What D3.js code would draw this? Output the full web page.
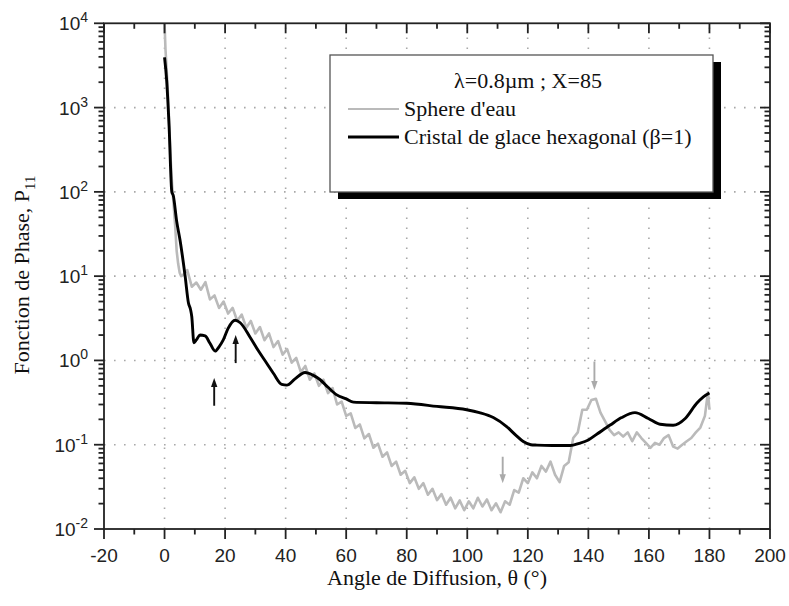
<!DOCTYPE html>
<html><head><meta charset="utf-8">
<script src="https://cdn.jsdelivr.net/npm/d3@7/dist/d3.min.js"></script>
<style>body{margin:0;background:#fff}svg{display:block}</style>
</head><body><svg id="c" width="789" height="606"></svg>
<script>
// ---------- data ----------
const xTickValues = [-20, 0, 20, 40, 60, 80, 100, 120, 140, 160, 180, 200];
const yTickExponents = [-2, -1, 0, 1, 2, 3, 4];

const sphereAngles = [0, 0.3, 1, 1.5, 2, 2.5, 3, 3.5, 4, 4.5, 5, 5.5, 6,
  7.5, 9, 10.5, 12, 13.5, 15, 16.5, 18, 19.5, 21, 22.5, 24, 25.5, 27, 28.5, 30,
  31.5, 33, 34.5, 36, 37.5, 39, 40.5, 42, 43.5, 45, 46.5, 48, 49.5, 51, 52.5, 54,
  55.5, 57, 58.5, 60, 61.5, 63, 64.5, 66, 67.5, 69, 70.5, 72, 73.5, 75, 76.5, 78,
  79.5, 81, 82.5, 84, 85.5, 87, 88.5, 90, 91.5, 93, 94.5, 96, 97.5, 99, 100.5, 102,
  103.5, 105, 106.5, 108, 109.5, 111, 112.5, 114, 115.5, 117, 118.5, 120, 121.5, 123,
  124.5, 126, 127.5, 129, 130.5, 132, 133.5, 135, 136.5, 138, 139.5, 141, 142.5, 144,
  145.5, 147, 148.5, 150, 151.5, 153, 154.5, 156, 157.5, 159, 160.5, 162, 163.5, 165,
  166.5, 168, 169.5, 171, 172.5, 174, 175.5, 177, 178.5, 179.5, 180];
const sphereValues = [10000, 5000, 1800, 700, 250, 120, 70, 40, 20, 14, 11, 10, 10.2,
  11.8, 7.5, 8.4, 6.9, 8.5, 5.3, 5.9, 4.2, 5.0, 3.6, 4.2, 2.96, 3.5, 2.44, 2.94, 2.09,
  2.49, 1.74, 2.09, 1.44, 1.7, 1.17, 1.36, 0.94, 1.07, 0.73, 0.86, 0.59, 0.70, 0.50, 0.59, 0.41,
  0.47, 0.30, 0.325, 0.22, 0.235, 0.158, 0.174, 0.119, 0.134, 0.092, 0.103, 0.072, 0.081, 0.056, 0.063, 0.044,
  0.049, 0.035, 0.041, 0.030, 0.035, 0.0255, 0.030, 0.022, 0.026, 0.0194, 0.0235, 0.0176, 0.0218, 0.0167, 0.0213, 0.0176,
  0.0235, 0.0185, 0.0224, 0.0167, 0.0202, 0.0158, 0.0213, 0.0194, 0.029, 0.027, 0.040, 0.035, 0.047, 0.040,
  0.056, 0.048, 0.063, 0.044, 0.036, 0.056, 0.062, 0.12, 0.14, 0.26, 0.26, 0.34, 0.35, 0.24,
  0.19, 0.15, 0.13, 0.14, 0.125, 0.14, 0.11, 0.14, 0.12, 0.105, 0.092, 0.105, 0.10, 0.12,
  0.13, 0.095, 0.09, 0.10, 0.11, 0.12, 0.14, 0.16, 0.22, 0.42, 0.26];

const crystalAngles = [0, 0.7, 1.5, 2.4, 2.9, 4, 5.1, 6.8, 7.9, 8.6, 9.0, 9.7, 10.5, 11.7,
  13.4, 15, 16.7, 18, 19.4, 21, 23.3, 25, 28.2, 31, 33.8, 36, 38.7, 40.4, 43, 46.4, 49,
  51.4, 54, 56.9, 60, 62.4, 70, 80, 90, 99.8, 104, 108.6, 113, 116, 118.5, 121, 123, 128,
  134, 137, 140, 143, 147.2, 151, 155.4, 159.8, 163.7, 168, 172, 175.8, 178, 180];
const crystalValues = [3950, 2100, 600, 100, 90, 45, 27, 10, 4.8, 4.0, 3.3, 1.62, 1.75, 2.0,
  1.95, 1.6, 1.29, 1.45, 1.75, 2.4, 3.0, 2.8, 1.9, 1.3, 0.92, 0.7, 0.52, 0.51, 0.6, 0.72, 0.67,
  0.59, 0.48, 0.39, 0.35, 0.32, 0.315, 0.31, 0.285, 0.26, 0.24, 0.21, 0.164, 0.13, 0.109, 0.1, 0.099, 0.098,
  0.098, 0.104, 0.114, 0.135, 0.171, 0.21, 0.24, 0.205, 0.175, 0.17, 0.205, 0.31, 0.37, 0.41];

// arrows: angle, tail value, tip value, series index (0 sphere, 1 crystal)
const arrowAngles = [16.4, 23.5, 111.7, 142];
const arrowTails = [0.29, 0.93, 0.072, 0.97];
const arrowTips = [0.62, 2.0, 0.035, 0.445];
const arrowSeries = [1, 1, 0, 0];

const legendTitle = "λ=0.8µm ; X=85";
const seriesNames = ["Sphere d'eau", "Cristal de glace hexagonal (β=1)"];
const seriesColors = ["#bababa", "#000000"];
const xTitle = "Angle de Diffusion, θ (°)";
const yTitle = "Fonction de Phase, P";
const yTitleSub = "11";

// ---------- layout ----------
const L = 104, R = 770, T = 23.3, B = 529;
const svg = d3.select("#c");
const x = d3.scaleLinear().domain([-20, 200]).range([L, R]);
const y = d3.scaleLog().domain([1e-2, 1e4]).range([B, T]);
const serif = "'Liberation Serif','Times New Roman',Times,serif";
const sans = "'Liberation Sans',Arial,Helvetica,sans-serif";

svg.append("defs").append("clipPath").attr("id", "clip")
  .append("rect").attr("x", L).attr("y", T).attr("width", R - L).attr("height", B - T);

// grid
const grid = svg.append("g").attr("stroke", "#a8a8a8").attr("stroke-width", 1.6)
  .attr("stroke-dasharray", "1.6,8.4").attr("fill", "none");
xTickValues.filter(v => v > -20 && v < 200).forEach(v => {
  grid.append("line").attr("x1", x(v)).attr("x2", x(v)).attr("y1", B).attr("y2", T);
});
yTickExponents.filter(e => e > -2 && e < 4).forEach(e => {
  grid.append("line").attr("y1", y(Math.pow(10, e))).attr("y2", y(Math.pow(10, e))).attr("x1", L).attr("x2", R);
});

// lines
const plot = svg.append("g").attr("clip-path", "url(#clip)");
const sphere = sphereAngles.map((a, i) => [a, sphereValues[i]]);
const crystal = crystalAngles.map((a, i) => [a, crystalValues[i]]);
plot.append("path").datum(sphere)
  .attr("d", d3.line().x(d => x(d[0])).y(d => y(d[1])))
  .attr("fill", "none").attr("stroke", seriesColors[0]).attr("stroke-width", 2.6)
  .attr("stroke-linejoin", "round");
plot.append("path").datum(crystal)
  .attr("d", d3.line().curve(d3.curveMonotoneX).x(d => x(d[0])).y(d => y(d[1])))
  .attr("fill", "none").attr("stroke", seriesColors[1]).attr("stroke-width", 2.9)
  .attr("stroke-linejoin", "round");

// arrows
arrowAngles.forEach((a, i) => {
  const col = arrowSeries[i] === 1 ? "#111" : "#aaaaaa";
  const xa = x(a), y0 = y(arrowTails[i]), y1 = y(arrowTips[i]);
  const dir = y1 < y0 ? 1 : -1; // 1 = pointing up
  const headLen = 9, headW = 3.2;
  svg.append("line").attr("x1", xa).attr("x2", xa).attr("y1", y0).attr("y2", y1 + dir * headLen * 0.8)
    .attr("stroke", col).attr("stroke-width", 1.9);
  svg.append("path")
    .attr("d", `M${xa},${y1} L${xa - headW},${y1 + dir * headLen} L${xa + headW},${y1 + dir * headLen} Z`)
    .attr("fill", col);
});

// legend
const lg = svg.append("g");
lg.append("rect").attr("x", 338).attr("y", 62).attr("width", 383).attr("height", 137).attr("fill", "#000");
lg.append("rect").attr("x", 330).attr("y", 55).attr("width", 383).attr("height", 137)
  .attr("fill", "#fff").attr("stroke", "#555").attr("stroke-width", 1.3);
lg.append("text").attr("x", 528).attr("y", 88).attr("text-anchor", "middle")
  .attr("font-family", serif).attr("font-size", 22).attr("fill", "#111").text(legendTitle);
seriesNames.forEach((n, i) => {
  const yy = 109 + i * 28;
  lg.append("line").attr("x1", 348).attr("x2", 399).attr("y1", yy).attr("y2", yy)
    .attr("stroke", seriesColors[i]).attr("stroke-width", i ? 2.8 : 2.2);
  lg.append("text").attr("x", 404).attr("y", yy + 7).attr("font-family", serif)
    .attr("font-size", 22).attr("fill", "#111").text(n);
});

// axes frame
const ax = svg.append("g").attr("stroke", "#222").attr("stroke-width", 1.8).attr("fill", "none");
ax.append("rect").attr("x", L).attr("y", T).attr("width", R - L).attr("height", B - T);
const majorLen = 10, minorLen = 5.5;
for (let v = -20; v <= 200; v += 10) {
  const major = xTickValues.includes(v);
  const len = major ? majorLen : minorLen;
  ax.append("line").attr("x1", x(v)).attr("x2", x(v)).attr("y1", B).attr("y2", B + len);
  ax.append("line").attr("x1", x(v)).attr("x2", x(v)).attr("y1", T).attr("y2", T + len);
}
yTickExponents.forEach(e => {
  const v = Math.pow(10, e);
  ax.append("line").attr("x1", L - majorLen).attr("x2", L).attr("y1", y(v)).attr("y2", y(v));
  ax.append("line").attr("x1", R - majorLen).attr("x2", R).attr("y1", y(v)).attr("y2", y(v));
  if (e < 4) {
    for (let k = 2; k <= 9; k++) {
      const mv = k * v;
      ax.append("line").attr("x1", L - minorLen).attr("x2", L).attr("y1", y(mv)).attr("y2", y(mv));
      ax.append("line").attr("x1", R - minorLen).attr("x2", R).attr("y1", y(mv)).attr("y2", y(mv));
    }
  }
});

// x tick labels
svg.append("g").selectAll("text").data(xTickValues).join("text")
  .attr("x", d => x(d)).attr("y", 562).attr("text-anchor", "middle")
  .attr("font-family", sans).attr("font-size", 19).attr("fill", "#222")
  .text(d => d);

// y tick labels
yTickExponents.forEach(e => {
  const t = svg.append("text").attr("x", 88).attr("y", y(Math.pow(10, e)) + 7)
    .attr("text-anchor", "end").attr("font-family", sans).attr("font-size", 19).attr("fill", "#222");
  t.append("tspan").text("10");
  t.append("tspan").attr("dy", -8).attr("font-size", 14).text(e);
});

// titles
svg.append("text").attr("x", 437).attr("y", 585).attr("text-anchor", "middle")
  .attr("font-family", serif).attr("font-size", 22).attr("fill", "#111").text(xTitle);
const yt = svg.append("text").attr("transform", "translate(29,275) rotate(-90)")
  .attr("text-anchor", "middle").attr("font-family", serif).attr("font-size", 22).attr("fill", "#111");
yt.append("tspan").text(yTitle);
yt.append("tspan").attr("dy", 6).attr("font-size", 15).text(yTitleSub);
</script></body></html>
